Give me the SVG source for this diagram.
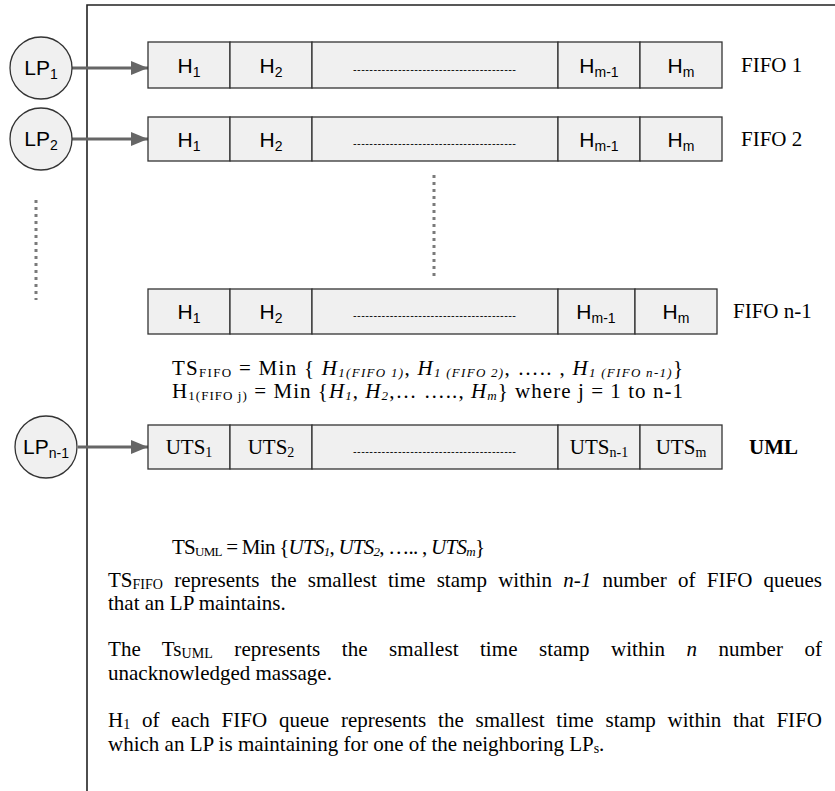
<svg xmlns="http://www.w3.org/2000/svg" width="835" height="791" viewBox="0 0 835 791">
<style>
.cell{fill:#f0f0f0;stroke:#333;stroke-width:1.3}
.lp{fill:#f0f0f0;stroke:#333;stroke-width:1.3}
.sans{font-family:"Liberation Sans",Arial,sans-serif;font-size:21px;fill:#000}
.serif{font-family:"Liberation Serif","Times New Roman",serif;font-size:21px;fill:#000}
.dash{font-family:"Liberation Sans",Arial,sans-serif;font-size:11px;fill:#000}
.conn{stroke:#666;stroke-width:3;fill:none;marker-end:url(#ah)}
.dots{stroke:#7a7a7a;stroke-width:3;stroke-dasharray:3 4;fill:none}
.it{font-style:italic}
</style>
<defs>
<marker id="ah" markerUnits="userSpaceOnUse" markerWidth="18" markerHeight="16" refX="17" refY="8" orient="auto">
<path d="M0,1 L17,8 L0,15 z" fill="#666"/>
</marker>
</defs>
<rect width="835" height="791" fill="#fff"/>
<path d="M87,791 V5 H835" fill="none" stroke="#222" stroke-width="1.6"/>

<g id="connectors">
<line class="conn" x1="72" y1="68" x2="148" y2="68"/>
<line class="conn" x1="72" y1="139" x2="148" y2="139"/>
<line class="conn" x1="78" y1="447" x2="148" y2="447"/>
</g>

<g id="ellipsis">
<line class="dots" x1="36" y1="200" x2="36" y2="300"/>
<line class="dots" x1="434" y1="175" x2="434" y2="277"/>
</g>

<g id="lp1">
<circle class="lp" cx="41" cy="68" r="31"/>
<text class="sans" x="41" y="75" text-anchor="middle">LP<tspan font-size="14" dy="4">1</tspan></text>
</g>
<g id="lp2">
<circle class="lp" cx="41" cy="139" r="31"/>
<text class="sans" x="41" y="146" text-anchor="middle">LP<tspan font-size="14" dy="4">2</tspan></text>
</g>
<g id="lpn1">
<circle class="lp" cx="46" cy="447" r="31"/>
<text class="sans" x="46" y="454" text-anchor="middle">LP<tspan font-size="14" dy="4">n-1</tspan></text>
</g>

<g id="fifo1">
<rect class="cell" x="148" y="42" width="82" height="46"/>
<rect class="cell" x="230" y="42" width="82" height="46"/>
<rect class="cell" x="312" y="42" width="246" height="46"/>
<rect class="cell" x="558" y="42" width="82" height="46"/>
<rect class="cell" x="640" y="42" width="82" height="46"/>
<text class="sans" x="189" y="73" text-anchor="middle">H<tspan font-size="14" dy="4">1</tspan></text>
<text class="sans" x="271" y="73" text-anchor="middle">H<tspan font-size="14" dy="4">2</tspan></text>
<text class="dash" x="353" y="73" textLength="163" lengthAdjust="spacing">----------------------------------------</text>
<text class="sans" x="599" y="73" text-anchor="middle">H<tspan font-size="14" dy="4">m-1</tspan></text>
<text class="sans" x="681" y="73" text-anchor="middle">H<tspan font-size="14" dy="4">m</tspan></text>
<text class="serif" x="741" y="72">FIFO 1</text>
</g>

<g id="fifo2">
<rect class="cell" x="148" y="117" width="82" height="44"/>
<rect class="cell" x="230" y="117" width="82" height="44"/>
<rect class="cell" x="312" y="117" width="246" height="44"/>
<rect class="cell" x="558" y="117" width="82" height="44"/>
<rect class="cell" x="640" y="117" width="82" height="44"/>
<text class="sans" x="189" y="147" text-anchor="middle">H<tspan font-size="14" dy="4">1</tspan></text>
<text class="sans" x="271" y="147" text-anchor="middle">H<tspan font-size="14" dy="4">2</tspan></text>
<text class="dash" x="353" y="147" textLength="163" lengthAdjust="spacing">----------------------------------------</text>
<text class="sans" x="599" y="147" text-anchor="middle">H<tspan font-size="14" dy="4">m-1</tspan></text>
<text class="sans" x="681" y="147" text-anchor="middle">H<tspan font-size="14" dy="4">m</tspan></text>
<text class="serif" x="741" y="146">FIFO 2</text>
</g>

<g id="fifon1">
<rect class="cell" x="148" y="289" width="82" height="45"/>
<rect class="cell" x="230" y="289" width="82" height="45"/>
<rect class="cell" x="312" y="289" width="246" height="45"/>
<rect class="cell" x="558" y="289" width="77" height="45"/>
<rect class="cell" x="635" y="289" width="82" height="45"/>
<text class="sans" x="189" y="319" text-anchor="middle">H<tspan font-size="14" dy="4">1</tspan></text>
<text class="sans" x="271" y="319" text-anchor="middle">H<tspan font-size="14" dy="4">2</tspan></text>
<text class="dash" x="353" y="319" textLength="163" lengthAdjust="spacing">----------------------------------------</text>
<text class="sans" x="596" y="319" text-anchor="middle">H<tspan font-size="14" dy="4">m-1</tspan></text>
<text class="sans" x="676" y="319" text-anchor="middle">H<tspan font-size="14" dy="4">m</tspan></text>
<text class="serif" x="733" y="318">FIFO n-1</text>
</g>

<g id="formula-fifo">
<text class="serif" x="172" y="375" textLength="511" lengthAdjust="spacing">TS<tspan font-size="13" dy="2">FIFO</tspan><tspan dy="-2"> = Min { </tspan><tspan class="it">H</tspan><tspan class="it" font-size="13" dy="2">1(FIFO 1)</tspan><tspan dy="-2">, </tspan><tspan class="it">H</tspan><tspan class="it" font-size="13" dy="2">1 (FIFO 2)</tspan><tspan dy="-2">,  ….. , </tspan><tspan class="it">H</tspan><tspan class="it" font-size="13" dy="2">1 (FIFO n-1)</tspan><tspan dy="-2">}</tspan></text>
<text class="serif" x="172" y="398" textLength="511" lengthAdjust="spacing">H<tspan font-size="13" dy="2">1(FIFO j)</tspan><tspan dy="-2"> = Min  {</tspan><tspan class="it">H</tspan><tspan class="it" font-size="13" dy="2">1</tspan><tspan dy="-2">, </tspan><tspan class="it">H</tspan><tspan class="it" font-size="13" dy="2">2</tspan><tspan dy="-2">,… ….., </tspan><tspan class="it">H</tspan><tspan class="it" font-size="13" dy="2">m</tspan><tspan dy="-2">} where j = 1 to n-1</tspan></text>
</g>

<g id="uml">
<rect class="cell" x="148" y="425" width="82" height="44"/>
<rect class="cell" x="230" y="425" width="82" height="44"/>
<rect class="cell" x="312" y="425" width="246" height="44"/>
<rect class="cell" x="558" y="425" width="82" height="44"/>
<rect class="cell" x="640" y="425" width="82" height="44"/>
<text class="serif" x="189" y="454" text-anchor="middle">UTS<tspan font-size="14" dy="3">1</tspan></text>
<text class="serif" x="271" y="454" text-anchor="middle">UTS<tspan font-size="14" dy="3">2</tspan></text>
<text class="dash" x="353" y="455" textLength="163" lengthAdjust="spacing">----------------------------------------</text>
<text class="serif" x="599" y="454" text-anchor="middle">UTS<tspan font-size="14" dy="3">n-1</tspan></text>
<text class="serif" x="681" y="454" text-anchor="middle">UTS<tspan font-size="14" dy="3">m</tspan></text>
<text class="serif" x="749" y="454" font-weight="bold">UML</text>
</g>

<g id="formula-uml">
<text class="serif" x="172" y="554" font-size="20" textLength="313" lengthAdjust="spacing">TS<tspan font-size="13" dy="2">UML</tspan><tspan dy="-2"> = Min {</tspan><tspan class="it">UTS</tspan><tspan class="it" font-size="13" dy="2">1</tspan><tspan dy="-2">, </tspan><tspan class="it">UTS</tspan><tspan class="it" font-size="13" dy="2">2</tspan><tspan dy="-2">, ….. , </tspan><tspan class="it">UTS</tspan><tspan class="it" font-size="13" dy="2">m</tspan><tspan dy="-2">}</tspan></text>
</g>

<g id="notes">
<text class="serif" x="108" y="587" word-spacing="6" textLength="714" lengthAdjust="spacing">TS<tspan font-size="14" dy="2">FIFO</tspan><tspan dy="-2"> represents the smallest time stamp within </tspan><tspan class="it">n-1</tspan> number of FIFO queues</text>
<text class="serif" x="108" y="610">that an LP maintains.</text>
<text class="serif" x="108" y="656" word-spacing="16" textLength="714" lengthAdjust="spacing">The Ts<tspan font-size="14" dy="2">UML</tspan><tspan dy="-2"> represents the smallest time stamp within </tspan><tspan class="it">n</tspan> number of</text>
<text class="serif" x="108" y="680">unacknowledged massage.</text>
<text class="serif" x="108" y="727" word-spacing="6.5" textLength="714" lengthAdjust="spacing">H<tspan font-size="14" dy="2">1</tspan><tspan dy="-2"> of each FIFO queue represents the smallest time stamp within that FIFO</tspan></text>
<text class="serif" x="108" y="751">which  an LP is maintaining for one of the neighboring LP<tspan font-size="14" dy="2">s</tspan><tspan dy="-2">.</tspan></text>
</g>
</svg>
